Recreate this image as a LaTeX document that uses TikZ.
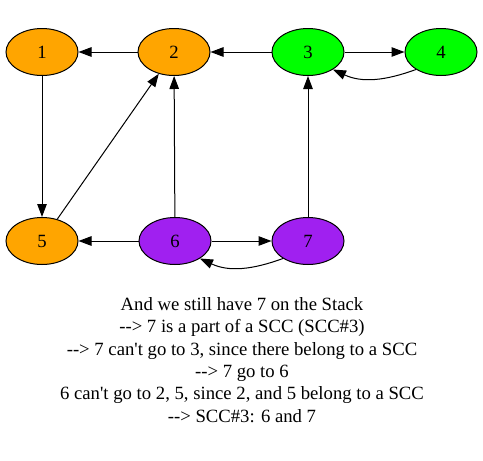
\documentclass[tikz,border=0pt]{standalone}
\usepackage{fontspec}
\setmainfont{Liberation Serif}[Ligatures=TeXOff]
\usetikzlibrary{arrows.meta,shapes.geometric}
\definecolor{gvorange}{RGB}{255,165,0}
\definecolor{gvgreen}{RGB}{0,255,0}
\definecolor{gvpurple}{RGB}{160,32,240}
\begin{document}
\begin{tikzpicture}[x=1pt,y=1pt,
  vert/.style={ellipse,draw=black,line width=1pt,minimum width=72pt,minimum height=47pt,inner sep=0pt,font=\fontsize{18.7}{21}\selectfont},
  edge/.style={draw=black,line width=1pt,-{Triangle[length=13pt,width=9.5pt]}},
  caption/.style={align=center,font=\fontsize{18.7}{22.4}\selectfont,inner sep=0pt}]
\useasboundingbox (0,0) rectangle (483,-461);
\node[vert,fill=gvorange] (n1) at (42,-52) {1};
\node[vert,fill=gvorange] (n2) at (174,-52) {2};
\node[vert,fill=gvgreen] (n3) at (308,-52) {3};
\node[vert,fill=gvgreen] (n4) at (441,-52) {4};
\node[vert,fill=gvorange] (n5) at (42,-241) {5};
\node[vert,fill=gvpurple] (n6) at (175,-241) {6};
\node[vert,fill=gvpurple] (n7) at (308,-241) {7};
\draw[edge] (n2) -- (n1);
\draw[edge] (n3) -- (n2);
\draw[edge] (n3) -- (n4);
\draw[edge] (n4.-145) to[out=200,in=-25] (n3.-35);
\draw[edge] (n1) -- (n5);
\draw[edge] (n5) -- (n2);
\draw[edge] (n6) -- (n2);
\draw[edge] (n7) -- (n3);
\draw[edge] (n6) -- (n5);
\draw[edge] (n6) -- (n7);
\draw[edge] (n7.-145) to[out=200,in=-25] (n6.-35);
\node[caption] (txt) at (242,-360) {And we still have 7 on the Stack\\
--> 7 is a part of a SCC (SCC\#3)\\
--> 7 can't go to 3, since there belong to a SCC\\
--> 7 go to 6\\
6 can't go to 2, 5, since 2, and 5 belong to a SCC\\
--> SCC\#3: 6 and 7};
\end{tikzpicture}
\end{document}
